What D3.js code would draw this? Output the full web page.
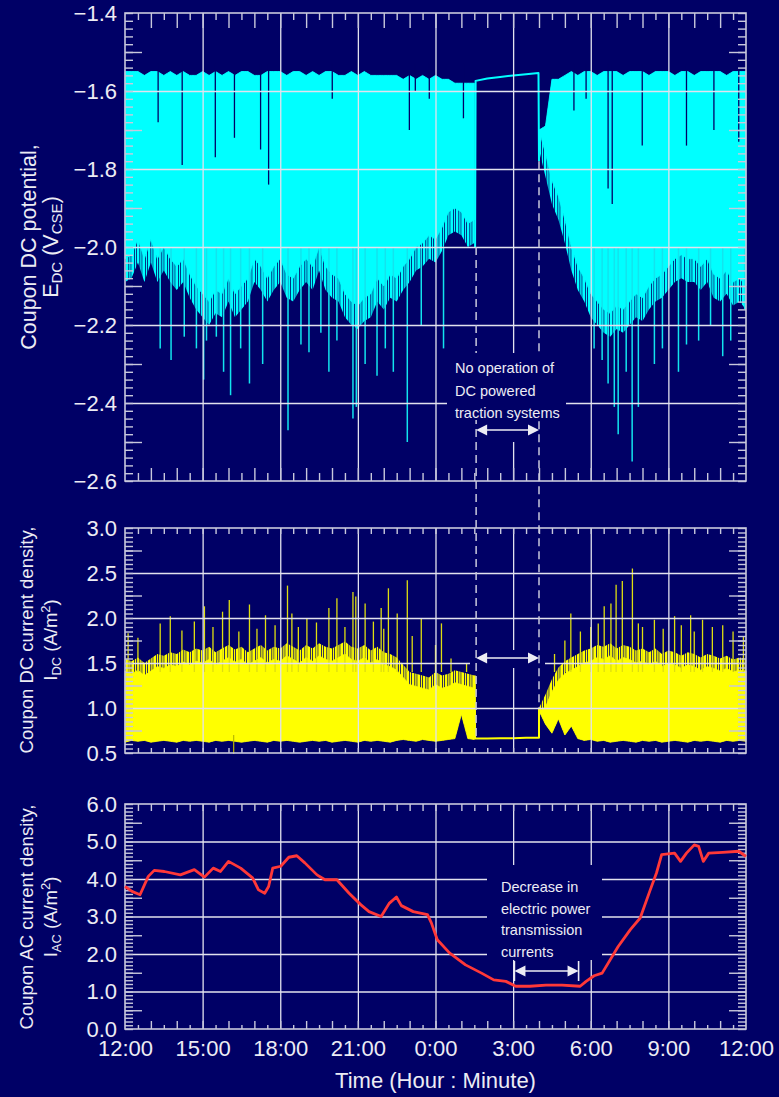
<!DOCTYPE html>
<html>
<head>
<meta charset="utf-8">
<script src="https://cdn.jsdelivr.net/npm/d3@7"></script>
<style>
  body { margin: 0; background: #000066; }
  text { font-family: "Liberation Sans", Arial, sans-serif; }
</style>
</head>
<body>
<svg id="chart" width="779" height="1097"></svg>
<script>
// time is in hours after 12:00 (noon) of day 1
var timeTicks = [0, 3, 6, 9, 12, 15, 18, 21, 24];
var timeLabels = ["12:00", "15:00", "18:00", "21:00", "0:00", "3:00", "6:00", "9:00", "12:00"];

// ---- coupon DC potential (V CSE), dense band read every 15 min ----
// part A: 12:00 .. 01:30, part B: 04:00 .. 12:00
var edcHighA = [-1.55, -1.55, -1.55, -1.56, -1.55, -1.55, -1.56, -1.55, -1.56, -1.55,
  -1.56, -1.56, -1.55, -1.56, -1.55, -1.56, -1.55, -1.56, -1.55, -1.55,
  -1.56, -1.56, -1.55, -1.55, -1.55, -1.56, -1.55, -1.55, -1.56, -1.55,
  -1.56, -1.55, -1.55, -1.56, -1.56, -1.55, -1.56, -1.55, -1.56, -1.56,
  -1.56, -1.56, -1.56, -1.57, -1.56, -1.57, -1.56, -1.57, -1.56, -1.57,
  -1.57, -1.58, -1.58, -1.58, -1.58];
var edcLowA = [-2.09, -2.08, -2.04, -2.09, -2.04, -2.09, -2.06, -2.09, -2.11, -2.09,
  -2.13, -2.16, -2.18, -2.20, -2.17, -2.18, -2.14, -2.18, -2.16, -2.14,
  -2.09, -2.11, -2.14, -2.11, -2.09, -2.13, -2.14, -2.11, -2.09, -2.11,
  -2.06, -2.11, -2.13, -2.14, -2.18, -2.20, -2.21, -2.19, -2.18, -2.14,
  -2.16, -2.13, -2.14, -2.11, -2.09, -2.06, -2.05, -2.03, -2.04, -2.01,
  -1.97, -1.96, -1.97, -2.00, -1.99];
var edcHighB = [-1.70, -1.69, -1.57, -1.57, -1.56, -1.55, -1.56, -1.55, -1.55, -1.56,
  -1.55, -1.55, -1.55, -1.56, -1.55, -1.55, -1.55, -1.56, -1.55, -1.55,
  -1.55, -1.56, -1.55, -1.55, -1.56, -1.55, -1.55, -1.55, -1.55, -1.56,
  -1.55, -1.55, -1.55];
var edcLowB = [-1.75, -1.82, -1.89, -1.93, -1.99, -2.06, -2.11, -2.14, -2.18, -2.20,
  -2.22, -2.23, -2.21, -2.22, -2.20, -2.18, -2.19, -2.16, -2.14, -2.13,
  -2.11, -2.09, -2.08, -2.09, -2.09, -2.11, -2.09, -2.13, -2.14, -2.12,
  -2.15, -2.14, -2.16];
// deep negative spikes
var edcSpikeT = [1.36, 1.78, 2.29, 2.76, 3.04, 3.15, 3.53, 3.81, 4.08, 4.47, 4.81, 5.32, 6.30, 6.80,
  7.11, 7.57, 7.88, 8.19, 8.81, 8.94, 9.28, 9.74, 10.06, 10.37, 10.91, 11.45, 12.31,
  18.13, 18.44, 18.67, 18.91, 19.06, 19.37, 19.60, 19.84, 20.46, 20.77, 21.39, 21.70,
  22.17, 22.63, 23.10, 23.41, 23.95];
var edcSpikeV = [-2.26, -2.29, -2.23, -2.26, -2.34, -2.24, -2.23, -2.32, -2.38, -2.26, -2.35, -2.30, -2.47, -2.25,
  -2.27, -2.22, -2.32, -2.24, -2.44, -2.41, -2.30, -2.33, -2.26, -2.32, -2.50, -2.20, -2.26,
  -2.26, -2.29, -2.35, -2.41, -2.48, -2.32, -2.55, -2.41, -2.30, -2.26, -2.32, -2.25,
  -2.24, -2.20, -2.28, -2.24, -2.16];
// dark drop-outs reaching down from the top of the band
var edcNotchT = [1.28, 2.21, 3.49, 4.23, 5.24, 5.55, 8.01, 10.99, 11.22, 11.76, 13.08,
  17.35, 17.82, 18.67, 18.83, 19.99, 21.70, 22.76, 23.72];
var edcNotchV = [-1.68, -1.79, -1.77, -1.72, -1.75, -1.84, -1.62, -1.70, -1.60, -1.62, -1.67,
  -1.65, -1.62, -1.85, -1.89, -1.74, -1.74, -1.70, -1.73];
// traction systems off
var edcOffT = [13.53, 13.55, 14.0, 14.5, 15.0, 15.5, 15.98, 16.0];
var edcOffV = [-2.00, -1.574, -1.568, -1.564, -1.560, -1.557, -1.554, -1.78];

// ---- coupon DC current density (A/m2) ----
var idcHighA = [1.55, 1.52, 1.56, 1.50, 1.55, 1.60, 1.58, 1.62, 1.60, 1.65,
  1.62, 1.66, 1.64, 1.68, 1.62, 1.66, 1.70, 1.65, 1.68, 1.62,
  1.66, 1.70, 1.64, 1.68, 1.66, 1.72, 1.68, 1.64, 1.70, 1.66,
  1.72, 1.68, 1.66, 1.70, 1.74, 1.68, 1.66, 1.70, 1.64, 1.68,
  1.62, 1.60, 1.56, 1.48, 1.40, 1.38, 1.36, 1.34, 1.40, 1.36,
  1.38, 1.42, 1.40, 1.38, 1.36];
var idcLowA = [0.62, 0.64, 0.63, 0.64, 0.62, 0.63, 0.64, 0.63, 0.62, 0.64,
  0.63, 0.64, 0.63, 0.62, 0.64, 0.63, 0.64, 0.63, 0.62, 0.63,
  0.64, 0.63, 0.62, 0.64, 0.63, 0.64, 0.63, 0.62, 0.63, 0.64,
  0.63, 0.64, 0.62, 0.63, 0.64, 0.63, 0.62, 0.64, 0.63, 0.64,
  0.63, 0.62, 0.64, 0.65, 0.64, 0.63, 0.65, 0.64, 0.63, 0.64,
  0.65, 0.66, 0.93, 0.66, 0.65];
var idcHighB = [1.00, 1.15, 1.32, 1.45, 1.52, 1.56, 1.60, 1.64, 1.66, 1.70,
  1.68, 1.72, 1.66, 1.70, 1.68, 1.64, 1.66, 1.62, 1.66, 1.60,
  1.64, 1.62, 1.58, 1.62, 1.60, 1.56, 1.60, 1.58, 1.55, 1.58,
  1.54, 1.56, 1.55];
var idcLowB = [0.97, 0.82, 0.72, 0.88, 0.70, 0.80, 0.66, 0.64, 0.65, 0.63,
  0.64, 0.62, 0.63, 0.64, 0.63, 0.62, 0.64, 0.63, 0.64, 0.62,
  0.63, 0.64, 0.63, 0.62, 0.64, 0.63, 0.64, 0.63, 0.62, 0.64,
  0.63, 0.64, 0.63];
var idcSpikeT = [0.12, 0.50, 1.36, 1.75, 2.20, 2.68, 3.07, 3.40, 3.77, 4.03, 4.40, 4.81, 5.10, 5.43,
  5.80, 6.28, 6.45, 6.70, 7.03, 7.40, 7.88, 8.19, 8.50, 8.81, 8.92, 9.28, 9.60, 9.90,
  10.00, 10.18, 10.52, 10.91, 11.10, 11.45, 12.00, 12.23, 12.60, 13.20,
  16.60, 17.00, 17.23, 17.60, 18.00, 18.29, 18.52, 18.78, 18.98, 19.22, 19.61, 19.84,
  20.00, 20.46, 20.80, 21.24, 21.50, 21.86, 22.00, 22.32, 22.70, 23.10, 23.50, 23.90];
var idcSpikeV = [1.83, 1.78, 1.94, 2.02, 1.86, 1.96, 2.13, 1.90, 2.07, 2.20, 1.85, 2.15, 1.88, 2.03,
  1.92, 2.36, 2.05, 1.90, 2.00, 1.95, 2.11, 2.22, 1.90, 2.29, 2.24, 2.16, 1.96, 2.11,
  1.88, 2.33, 2.05, 2.42, 1.80, 2.00, 1.70, 1.94, 1.55, 1.50,
  1.60, 1.75, 2.05, 1.85, 1.90, 1.94, 2.13, 2.16, 2.37, 2.41, 2.55, 1.94,
  1.90, 1.98, 1.88, 2.02, 1.92, 2.03, 1.85, 1.98, 1.90, 1.92, 1.85, 1.80];
var idcOffT = [13.52, 13.53, 14.0, 14.5, 15.0, 15.5, 16.0, 16.0];
var idcOffV = [1.36, 0.66, 0.66, 0.665, 0.665, 0.67, 0.67, 1.0];

// ---- coupon AC current density (A/m2) ----
var iacT = [0, 0.27, 0.58, 0.9, 1.13, 1.52, 2.14, 2.68, 3.07, 3.41, 3.69, 4.0, 4.47, 4.93, 5.16,
  5.4, 5.55, 5.71, 6.02, 6.33, 6.64, 6.95, 7.42, 7.73, 8.19, 8.66, 9.12, 9.43, 9.9, 10.21,
  10.49, 10.68, 11.14, 11.69, 11.84, 12.07, 12.54, 13.16, 13.78, 14.25, 14.72, 15.1, 15.65,
  16.27, 16.89, 17.59, 17.82, 18.13, 18.44, 19.06, 19.53, 19.91, 20.3, 20.54, 20.74, 21.24,
  21.47, 21.7, 22.0, 22.17, 22.35, 22.56, 23.1, 23.72, 24];
var iacV = [3.80, 3.67, 3.58, 4.07, 4.23, 4.20, 4.11, 4.25, 4.05, 4.29, 4.20, 4.47, 4.29, 4.03, 3.71,
  3.62, 3.80, 4.29, 4.34, 4.58, 4.62, 4.43, 4.11, 3.98, 3.98, 3.62, 3.31, 3.13, 3.00, 3.35,
  3.52, 3.29, 3.13, 3.05, 2.83, 2.38, 2.03, 1.71, 1.49, 1.31, 1.27, 1.14, 1.14,
  1.17, 1.17, 1.14, 1.27, 1.42, 1.49, 2.20, 2.65, 2.96, 3.71, 4.16, 4.65, 4.69,
  4.47, 4.69, 4.91, 4.87, 4.47, 4.69, 4.71, 4.74, 4.60];

var bg = "#000066", ink = "#ececf4", tickInk = "#c8c8dc", gridInk = "#e2e2ee";
var svg = d3.select("#chart");
svg.append("rect").attr("width", 779).attr("height", 1097).attr("fill", bg);

// irregular vertical hatching, used for the ragged fringe of the dense bands
var defs = svg.append("defs");
[["hatchC", "#00ffff"], ["hatchY", "#ffff00"]].forEach(p => {
  var pat = defs.append("pattern").attr("id", p[0]).attr("patternUnits", "userSpaceOnUse")
    .attr("width", 11).attr("height", 20);
  [[0, 2.2], [3.0, 1.2], [5.0, 2.4], [8.2, 1.4], [10.3, 0.7]].forEach(r =>
    pat.append("rect").attr("x", r[0]).attr("y", 0).attr("width", r[1]).attr("height", 20).attr("fill", p[1]));
});

var x = d3.scaleLinear().domain([0, 24]).range([125, 746]);
var x0 = x(0), x1 = x(24);
var stepT = function (start, arr) { return arr.map((d, i) => start + i * 0.25); };

var y1 = d3.scaleLinear().domain([-2.6, -1.4]).range([481, 13]);
var y2 = d3.scaleLinear().domain([0.5, 3.0]).range([753, 528]);
var y3 = d3.scaleLinear().domain([0, 6]).range([1029, 804]);

var gData = svg.append("g"), gAxes = svg.append("g"), gNote = svg.append("g");

// dense band: a hatched ragged fringe and a solid core
function band(y, t, hi, lo, color, hatch, coreHi, coreLo) {
  var area = (a, b) => d3.area().x((d, i) => x(t[i])).y0((d, i) => y(b[i])).y1((d, i) => y(a[i]));
  gData.append("path").datum(hi).attr("d", area(hi, lo)).attr("fill", `url(#${hatch})`);
  gData.append("path").datum(hi).attr("d", area(coreHi, coreLo)).attr("fill", color)
    .attr("stroke", color).attr("stroke-width", 0.8);
}
function sticks(y, t, v, from, color, w) {
  gData.append("g").selectAll("line").data(v).join("line")
    .attr("x1", (d, i) => x(t[i])).attr("x2", (d, i) => x(t[i]))
    .attr("y1", y(from)).attr("y2", d => y(d))
    .attr("stroke", color).attr("stroke-width", w);
}
function trace(y, t, v, color, w) {
  var line = d3.line().x((d, i) => x(t[i])).y(d => y(d));
  gData.append("path").datum(v).attr("d", line).attr("fill", "none")
    .attr("stroke", color).attr("stroke-width", w).attr("stroke-linejoin", "round");
}

function axes(y, o) {
  var top = y.range()[1], bot = y.range()[0];
  var g = gAxes.append("g");
  var clean = s => s.call(s => s.select(".domain").remove());
  // grid
  g.append("g").attr("transform", `translate(${x0},0)`).attr("color", gridInk)
    .call(d3.axisLeft(y).tickValues(o.grid).tickSize(-(x1 - x0)).tickFormat("")).call(clean)
    .selectAll("line").attr("stroke-width", 1.3);
  g.append("g").attr("transform", `translate(0,${bot})`).attr("color", gridInk)
    .call(d3.axisBottom(x).tickValues([3, 6, 9, 12, 15, 18, 21]).tickSize(-(bot - top)).tickFormat("")).call(clean)
    .selectAll("line").attr("stroke-width", 1.3);
  // inward ticks on the four sides
  var tk = function (axis, tr, vals, len) {
    g.append("g").attr("transform", tr).attr("color", tickInk)
      .call(axis.tickValues(vals).tickSize(-len).tickFormat("")).call(clean)
      .selectAll("line").attr("stroke-width", 1.4);
  };
  tk(d3.axisLeft(y), `translate(${x0},0)`, o.minor, 8);
  tk(d3.axisLeft(y), `translate(${x0},0)`, o.mid, 17);
  tk(d3.axisRight(y), `translate(${x1},0)`, o.minor, 8);
  tk(d3.axisRight(y), `translate(${x1},0)`, o.mid, 17);
  var halfH = d3.range(0.5, 24, 1), fullH = d3.range(1, 24, 1);
  tk(d3.axisTop(x), `translate(0,${top})`, halfH, o.topShort);
  tk(d3.axisTop(x), `translate(0,${top})`, fullH, o.topLong);
  tk(d3.axisBottom(x), `translate(0,${bot})`, halfH, o.botShort);
  tk(d3.axisBottom(x), `translate(0,${bot})`, fullH, o.botLong);
  // frame
  g.append("rect").attr("x", x0).attr("y", top).attr("width", x1 - x0).attr("height", bot - top)
    .attr("fill", "none").attr("stroke", tickInk).attr("stroke-width", 1.6);
  // labels
  g.append("g").attr("transform", `translate(${x0},0)`).attr("color", ink)
    .call(d3.axisLeft(y).tickValues(o.labels).tickSize(0).tickPadding(8).tickFormat(d3.format(".1f")))
    .call(clean)
    .attr("font-family", null).attr("font-size", 22);
}

function yTitle(cx, cy, size, parts) {
  var t = svg.append("text").attr("transform", `translate(${cx},${cy}) rotate(-90)`)
    .attr("text-anchor", "middle").attr("fill", ink).attr("font-size", size);
  parts.forEach(p => {
    var s = t.append("tspan").text(p[0]);
    if (p[1]) s.attr("font-size", size * 0.7);
    if (p[2]) s.attr("dy", p[2]);
  });
}

// ---------- panel 1 ----------
band(y1, stepT(0, edcHighA), edcHighA, edcLowA, "#00ffff", "hatchC",
  edcHighA, edcLowA.map((d, i) => Math.min(d + 0.06, edcHighA[i])));
band(y1, stepT(16, edcHighB), edcHighB, edcLowB, "#00ffff", "hatchC",
  edcHighB, edcLowB.map((d, i) => Math.min(d + 0.06, edcHighB[i])));
sticks(y1, edcSpikeT, edcSpikeV, -2.0, "#12e4ee", 1.5);
sticks(y1, edcNotchT, edcNotchV, -1.53, bg, 1.3);
trace(y1, edcOffT, edcOffV, "#00ffff", 2);
axes(y1, {
  grid: [-2.4, -2.2, -2.0, -1.8, -1.6],
  minor: d3.range(0, 61).map(i => -2.6 + i * 0.02),
  mid: [-2.5, -2.3, -2.1, -1.9, -1.7, -1.5],
  labels: [-2.6, -2.4, -2.2, -2.0, -1.8, -1.6, -1.4],
  topShort: 7, topLong: 15, botShort: 8, botLong: 13
});

// ---------- panel 2 ----------
band(y2, stepT(0, idcHighA), idcHighA, idcLowA, "#ffff00", "hatchY",
  idcHighA.map((d, i) => Math.max(d - 0.14, idcLowA[i])), idcLowA);
band(y2, stepT(16, idcHighB), idcHighB, idcLowB, "#ffff00", "hatchY",
  idcHighB.map((d, i) => Math.max(d - 0.14, idcLowB[i])), idcLowB);
sticks(y2, idcSpikeT, idcSpikeV, 1.4, "#dede10", 1.3);
sticks(y2, [4.2], [0.49], 0.7, "#b8b800", 1.2);
trace(y2, idcOffT, idcOffV, "#ffff00", 2);
axes(y2, {
  grid: [1.0, 1.5, 2.0, 2.5],
  minor: d3.range(0, 51).map(i => 0.5 + i * 0.05),
  mid: [0.75, 1.25, 1.75, 2.25, 2.75],
  labels: [0.5, 1.0, 1.5, 2.0, 2.5, 3.0],
  topShort: 6, topLong: 6, botShort: 5, botLong: 5
});

// ---------- panel 3 ----------
axes(y3, {
  grid: [1, 2, 3, 4, 5],
  minor: d3.range(0, 61).map(i => i * 0.1),
  mid: [0.5, 1.5, 2.5, 3.5, 4.5, 5.5],
  labels: [0, 1, 2, 3, 4, 5, 6],
  topShort: 7, topLong: 7, botShort: 4, botLong: 8
});
gAxes.append("g").attr("transform", `translate(0,${y3.range()[0]})`).attr("color", ink)
  .call(d3.axisBottom(x).tickValues(timeTicks).tickSize(0).tickPadding(11)
    .tickFormat((d, i) => timeLabels[i]))
  .call(s => s.select(".domain").remove())
  .attr("font-family", null).attr("font-size", 22);
var redG = svg.append("g");
redG.append("path").datum(iacV)
  .attr("d", d3.line().x((d, i) => x(iacT[i])).y(d => y3(d)))
  .attr("fill", "none").attr("stroke", "#ff3838").attr("stroke-width", 2.8).attr("stroke-linejoin", "round");

// ---------- annotations ----------
function box(xa, ya, xb, yb) {
  gNote.append("rect").attr("x", xa).attr("y", ya).attr("width", xb - xa).attr("height", yb - ya).attr("fill", bg);
}
function dblArrow(xa, xb, yy, bars) {
  gNote.append("line").attr("x1", xa + 8).attr("x2", xb - 8).attr("y1", yy).attr("y2", yy)
    .attr("stroke", ink).attr("stroke-width", 1.6);
  gNote.append("path").attr("d", `M${xa},${yy}l11,-5.5v11z`).attr("fill", ink);
  gNote.append("path").attr("d", `M${xb},${yy}l-11,-5.5v11z`).attr("fill", ink);
  if (bars) [xa, xb].forEach(xx => gNote.append("line").attr("x1", xx).attr("x2", xx)
    .attr("y1", yy - 10).attr("y2", yy + 10).attr("stroke", ink).attr("stroke-width", 1.6));
}
function note(x0n, ys, lines) {
  lines.forEach((s, i) => gNote.append("text").attr("x", x0n).attr("y", ys[i]).attr("fill", ink)
    .attr("font-size", 14.5).text(s));
}
var offStart = 13.57, offEnd = 16.0;
box(478, 418, 537, 442);
box(470, 650, 545, 668);
box(487, 865, 602, 960);
[[offStart, -2.0, 0.66], [offEnd, -1.78, 1.0]].forEach(d => {
  gNote.append("line").attr("x1", x(d[0])).attr("x2", x(d[0]))
    .attr("y1", y1(d[1])).attr("y2", y2(d[2]))
    .attr("stroke", tickInk).attr("stroke-width", 1.5).attr("stroke-dasharray", "8,5");
});
box(447, 353, 566, 420);
note(455, [373, 396, 418], ["No operation of", "DC powered", "traction systems"]);
dblArrow(x(offStart), x(offEnd), 430, false);
dblArrow(x(offStart), x(offEnd), 658, false);
note(501, [892, 914, 935, 957], ["Decrease in", "electric power", "transmission", "currents"]);
dblArrow(x(15.05), x(17.53), 971, true);

// ---------- axis titles ----------
yTitle(36, 247, 21.5, [["Coupon DC potential,"]]);
yTitle(58, 247, 21.5, [["E"], ["DC", 1, 4], [" (V", 0, -4], ["CSE", 1, 4], [")", 0, -4]]);
yTitle(33, 640, 18.5, [["Coupon DC current density,"]]);
yTitle(57, 640, 18.5, [["I"], ["DC", 1, 4], [" (A/m", 0, -4], ["2", 1, -7], [")", 0, 7]]);
yTitle(33, 917, 18.5, [["Coupon AC current density,"]]);
yTitle(57, 917, 18.5, [["I"], ["AC", 1, 4], [" (A/m", 0, -4], ["2", 1, -7], [")", 0, 7]]);
svg.append("text").attr("x", (x0 + x1) / 2).attr("y", 1088).attr("text-anchor", "middle")
  .attr("fill", ink).attr("font-size", 22).text("Time (Hour : Minute)");
</script>
</body>
</html>
